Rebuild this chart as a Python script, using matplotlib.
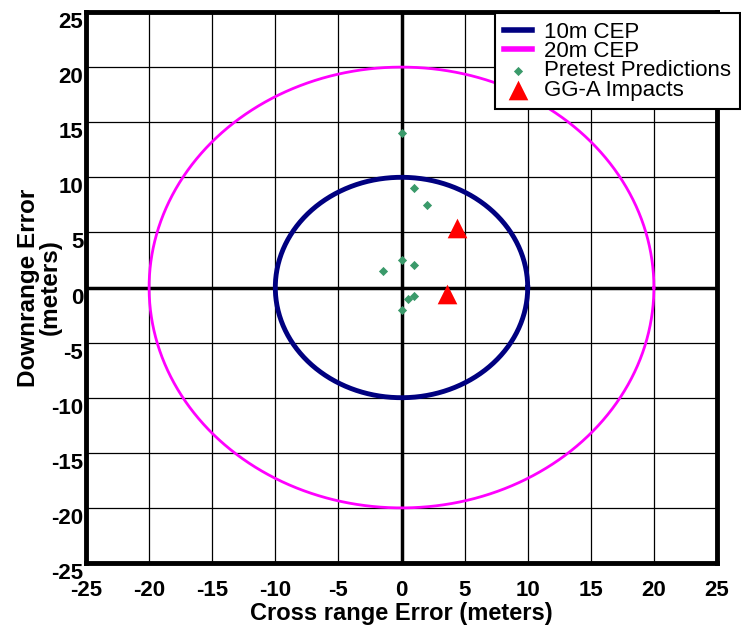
import numpy as np
import matplotlib
matplotlib.use("Agg")
import matplotlib.pyplot as plt

plt.rcParams['axes.unicode_minus'] = False
fam = 'Liberation Sans'

# Data
pred_x = [0.0, 1.0, 2.0, 0.0, 1.0, -1.5, 0.5, 1.0, 0.0]
pred_y = [14.0, 9.0, 7.5, 2.5, 2.0, 1.5, -1.0, -0.75, -2.0]
impact_x = [4.4, 3.6]
impact_y = [5.4, -0.6]
cep_radii = [10, 20]
cep_labels = ['10m CEP', '20m CEP']
cep_colors = ['#000080', '#FF00FF']
cep_widths = [3.5, 2.0]
ticks = list(range(-25, 30, 5))

fig = plt.figure(figsize=(7.41, 6.27), dpi=100)
ax = fig.add_axes([86/741, 1 - 563/627, (717-86)/741, (563-12)/627])

# grid
for t in ticks:
    lw = 2.5 if t == 0 else 0.9
    ax.axvline(t, color='black', lw=lw, zorder=1)
    ax.axhline(t, color='black', lw=lw, zorder=1)

theta = np.linspace(0, 2*np.pi, 400)
handles = []
for r, lab, c, w in zip(cep_radii, cep_labels, cep_colors, cep_widths):
    h, = ax.plot(r*np.cos(theta), r*np.sin(theta), color=c, lw=w, label=lab, zorder=2)
    handles.append(h)

h3 = ax.scatter(pred_x, pred_y, marker='D', s=22, color='#3A9A6A', label='Pretest Predictions', zorder=3, linewidths=0)
h4 = ax.scatter(impact_x, impact_y, marker='^', s=200, color='#FF0000', label='GG-A Impacts', zorder=4, linewidths=0)

ax.set_xlim(-25, 25)
ax.set_ylim(-25, 25)
ax.set_xticks(ticks)
ax.set_yticks(ticks)
ax.tick_params(length=0)
ax.tick_params(axis='x', pad=12)
ax.tick_params(axis='y', pad=2)
for lab in ax.get_xticklabels() + ax.get_yticklabels():
    lab.set_fontfamily(fam)
    lab.set_fontweight('bold')
    lab.set_fontsize(16)
for lab in ax.get_yticklabels():
    lab.set_verticalalignment('top')
for s in ax.spines.values():
    s.set_linewidth(3.5)

ax.set_xlabel('Cross range Error (meters)', fontfamily=fam, fontweight='bold', fontsize=17, labelpad=1)
ax.set_ylabel('Downrange Error\n(meters)', fontfamily=fam, fontweight='bold', fontsize=17.5, labelpad=-8, linespacing=0.95)

leg = fig.legend(handles=[handles[0], handles[1], h3, h4],
                 loc='upper left', bbox_to_anchor=(495/741, 1 - 13/627),
                 prop={'family': fam, 'size': 16},
                 frameon=True, fancybox=False, framealpha=1, edgecolor='black',
                 labelspacing=-0.08, handlelength=1.25, handletextpad=0.55,
                 borderpad=0.4, borderaxespad=0, markerscale=1)
leg.get_frame().set_linewidth(1.5)
leg.set_zorder(10)
for lh in leg.legend_handles[:2]:
    lh.set_linewidth(4)

fig.savefig('out.png', dpi=100)
